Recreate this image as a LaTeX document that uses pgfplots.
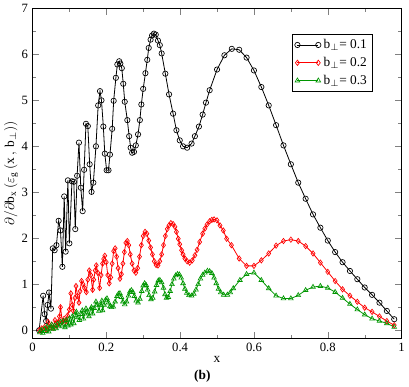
\documentclass[border=0pt]{standalone}
\usepackage{pgfplots}
\pgfplotsset{compat=1.18}
\usepackage{fontspec}
\setmainfont{Liberation Serif}
\definecolor{ggreen}{RGB}{0,150,0}
\begin{document}
\fontsize{9.5}{11}\selectfont
\begin{tikzpicture}
\begin{axis}[
  name=ax,
  scale only axis,
  width=276.75pt, height=247.5pt,
  xmin=0, xmax=1, ymin=-0.18, ymax=7,
  xtick={0,0.2,0.4,0.6,0.8,1},
  xticklabels={0,0.2,0.4,0.6,0.8,1},
  ytick={0,1,2,3,4,5,6,7},
  minor x tick num=1, minor y tick num=1,
  tick align=inside,
  major tick length=5pt, minor tick length=3pt,
  /pgf/number format/assume math mode=true,
  tick label style={font=\fontsize{9.5}{11}\selectfont},
  xlabel={x}, xlabel style={font=\fontsize{10}{12}\selectfont, yshift=3pt},
  ylabel={$\partial/\partial\mathrm{b}_{\mathrm{x}}\,(\varepsilon_{\mathrm{g}}\,(\mathrm{x}\,,\,\mathrm{b}_{\perp}))$},
  ylabel style={font=\fontsize{10}{12}\selectfont, yshift=-4pt},
  every axis plot/.append style={line width=0.6pt},
  legend style={at={(0.921,0.923)}, anchor=north east, draw=black, font=\fontsize{10}{12}\selectfont, row sep=1pt, inner sep=2pt},
  legend cell align=left,
  legend image code/.code={\draw[#1] plot coordinates {(0cm,0cm) (0.55cm,0cm)};},
  clip=true,
]
\addplot[black, mark=o, mark size=2pt, mark options={line width=0.5pt}] coordinates {
(0.018,0.00) (0.029,0.75) (0.033,0.35) (0.037,0.20) (0.041,0.55) (0.045,0.82) (0.050,0.47)
(0.055,1.78) (0.060,1.74) (0.065,1.85) (0.071,2.38) (0.076,2.17) (0.081,1.38) (0.086,2.91)
(0.090,1.71) (0.096,3.26) (0.100,1.89) (0.107,3.24) (0.112,3.23) (0.116,2.20) (0.121,3.36)
(0.126,4.08) (0.131,3.10) (0.136,2.59) (0.140,3.49) (0.145,4.49) (0.150,4.44) (0.155,3.61)
(0.160,3.01) (0.165,3.21) (0.172,4.00) (0.178,4.89) (0.183,5.20) (0.187,5.00) (0.192,4.43)
(0.196,3.84) (0.201,3.48) (0.206,3.48) (0.210,3.82) (0.216,4.38) (0.220,4.99) (0.226,5.49)
(0.230,5.78) (0.235,5.85) (0.238,5.80) (0.242,5.70) (0.246,5.36) (0.250,4.97) (0.257,4.57)
(0.262,4.22) (0.266,3.97) (0.270,3.86) (0.275,3.88) (0.280,4.02) (0.286,4.26) (0.291,4.57)
(0.295,4.91) (0.300,5.25) (0.306,5.59) (0.311,5.88) (0.315,6.14) (0.320,6.32) (0.324,6.41)
(0.329,6.45) (0.334,6.43) (0.340,6.30) (0.345,6.20) (0.350,6.02) (0.360,5.58) (0.370,5.13)
(0.381,4.71) (0.390,4.35) (0.399,4.13) (0.408,4.00) (0.419,3.97) (0.431,4.06) (0.440,4.22)
(0.451,4.43) (0.461,4.69) (0.470,4.95) (0.480,5.22) (0.500,5.67) (0.520,5.98) (0.540,6.12)
(0.560,6.10) (0.580,5.93) (0.600,5.65) (0.620,5.29) (0.640,4.89) (0.660,4.46) (0.680,4.02)
(0.700,3.61) (0.720,3.21) (0.740,2.86) (0.760,2.52) (0.780,2.23) (0.800,1.95) (0.820,1.70)
(0.840,1.48) (0.860,1.29) (0.880,1.11) (0.900,0.93) (0.920,0.77) (0.940,0.60) (0.960,0.42)
(0.980,0.24)
};
\addlegendentry{$\mathrm{b}_{\perp}$= 0.1}
\addplot[red, mark=diamond, mark size=2pt, mark options={line width=0.5pt}] coordinates {
(0.019,0.00) (0.025,0.04) (0.033,0.07) (0.037,0.02) (0.042,0.18) (0.047,0.06) (0.052,0.12)
(0.056,0.05) (0.061,0.22) (0.066,0.10) (0.070,0.18) (0.073,0.30) (0.076,0.50) (0.081,0.18)
(0.086,0.25) (0.091,0.20) (0.095,0.32) (0.100,0.45) (0.104,0.80) (0.108,0.55) (0.111,0.42)
(0.115,0.70) (0.118,0.96) (0.122,0.75) (0.126,0.60) (0.129,0.85) (0.133,1.07) (0.137,1.00)
(0.141,0.92) (0.146,0.83) (0.150,1.10) (0.154,1.30) (0.158,1.20) (0.163,0.88) (0.166,1.10)
(0.170,1.30) (0.173,1.41) (0.177,1.25) (0.182,0.92) (0.186,1.20) (0.190,1.45) (0.193,1.55)
(0.196,1.62) (0.200,1.48) (0.204,1.20) (0.208,1.02) (0.212,1.15) (0.216,1.45) (0.220,1.72)
(0.224,1.78) (0.228,1.60) (0.232,1.35) (0.237,1.12) (0.241,1.22) (0.245,1.45) (0.249,1.70)
(0.253,1.90) (0.257,1.94) (0.261,1.85) (0.265,1.65) (0.270,1.45) (0.275,1.30) (0.280,1.25)
(0.285,1.35) (0.290,1.60) (0.295,1.85) (0.300,2.05) (0.305,2.14) (0.310,2.10) (0.315,1.95)
(0.320,1.80) (0.325,1.65) (0.330,1.50) (0.335,1.42) (0.340,1.41) (0.345,1.50) (0.350,1.65)
(0.355,1.85) (0.360,2.05) (0.365,2.20) (0.370,2.28) (0.375,2.33) (0.381,2.31) (0.386,2.25)
(0.390,2.14) (0.395,1.99) (0.399,1.87) (0.404,1.74) (0.408,1.65) (0.413,1.56) (0.419,1.50)
(0.426,1.47) (0.433,1.52) (0.440,1.63) (0.446,1.75) (0.453,1.92) (0.461,2.10) (0.467,2.21)
(0.473,2.30) (0.480,2.37) (0.486,2.40) (0.492,2.41) (0.500,2.39) (0.508,2.28) (0.517,2.17)
(0.526,1.99) (0.539,1.85) (0.560,1.56) (0.580,1.40) (0.600,1.40) (0.620,1.52) (0.640,1.67)
(0.660,1.84) (0.680,1.94) (0.700,1.97) (0.720,1.94) (0.740,1.83) (0.760,1.67) (0.780,1.47)
(0.800,1.27) (0.820,1.07) (0.840,0.89) (0.860,0.75) (0.880,0.62) (0.900,0.49) (0.920,0.40)
(0.940,0.30) (0.960,0.20) (0.980,0.11)
};
\addlegendentry{$\mathrm{b}_{\perp}$= 0.2}
\addplot[ggreen, mark=triangle, mark size=2pt, mark options={line width=0.5pt}] coordinates {
(0.020,-0.05) (0.024,0.00) (0.028,-0.06) (0.032,0.03) (0.036,-0.02) (0.040,0.08) (0.044,-0.03)
(0.048,0.05) (0.052,0.12) (0.056,0.02) (0.060,0.10) (0.064,0.04) (0.068,0.14) (0.072,0.08)
(0.076,0.18) (0.080,0.10) (0.084,0.20) (0.088,0.06) (0.092,0.22) (0.096,0.10) (0.100,0.25)
(0.104,0.12) (0.108,0.30) (0.112,0.15) (0.116,0.33) (0.119,0.40) (0.123,0.28) (0.127,0.22)
(0.131,0.35) (0.135,0.43) (0.138,0.25) (0.142,0.36) (0.145,0.47) (0.149,0.40) (0.153,0.30)
(0.157,0.45) (0.160,0.50) (0.163,0.36) (0.167,0.48) (0.172,0.62) (0.176,0.55) (0.180,0.42)
(0.184,0.55) (0.188,0.64) (0.190,0.43) (0.194,0.55) (0.198,0.66) (0.202,0.69) (0.206,0.60)
(0.210,0.52) (0.214,0.50) (0.219,0.51) (0.224,0.62) (0.229,0.74) (0.233,0.79) (0.237,0.80)
(0.241,0.72) (0.245,0.62) (0.250,0.56) (0.255,0.62) (0.260,0.75) (0.264,0.84) (0.268,0.87)
(0.272,0.83) (0.276,0.74) (0.281,0.64) (0.286,0.60) (0.291,0.68) (0.296,0.85) (0.300,0.97)
(0.304,1.02) (0.308,0.98) (0.312,0.88) (0.316,0.76) (0.321,0.67) (0.326,0.70) (0.331,0.84)
(0.336,0.98) (0.341,1.08) (0.345,1.09) (0.350,1.04) (0.355,0.92) (0.359,0.78) (0.363,0.70)
(0.368,0.72) (0.373,0.85) (0.378,1.00) (0.383,1.12) (0.388,1.19) (0.393,1.22) (0.398,1.21)
(0.403,1.14) (0.408,1.02) (0.413,0.90) (0.418,0.81) (0.424,0.76) (0.431,0.75) (0.437,0.79)
(0.443,0.88) (0.449,1.00) (0.455,1.12) (0.461,1.20) (0.467,1.25) (0.474,1.29) (0.480,1.28)
(0.486,1.24) (0.492,1.14) (0.498,1.02) (0.504,0.90) (0.510,0.82) (0.518,0.77) (0.528,0.77)
(0.536,0.82) (0.544,0.91) (0.562,1.09) (0.580,1.22) (0.600,1.25) (0.620,1.09) (0.640,0.91)
(0.660,0.75) (0.680,0.69) (0.700,0.69) (0.720,0.76) (0.740,0.87) (0.760,0.94) (0.780,0.96)
(0.800,0.92) (0.820,0.83) (0.840,0.70) (0.860,0.57) (0.880,0.45) (0.900,0.34) (0.920,0.25)
(0.940,0.20) (0.960,0.15) (0.980,0.07)
};
\addlegendentry{$\mathrm{b}_{\perp}$= 0.3}
\end{axis}
\node[font=\bfseries\fontsize{10}{12}\selectfont] at ([xshift=-11pt,yshift=-28.5pt]ax.south) {(b)};
\end{tikzpicture}
\end{document}
